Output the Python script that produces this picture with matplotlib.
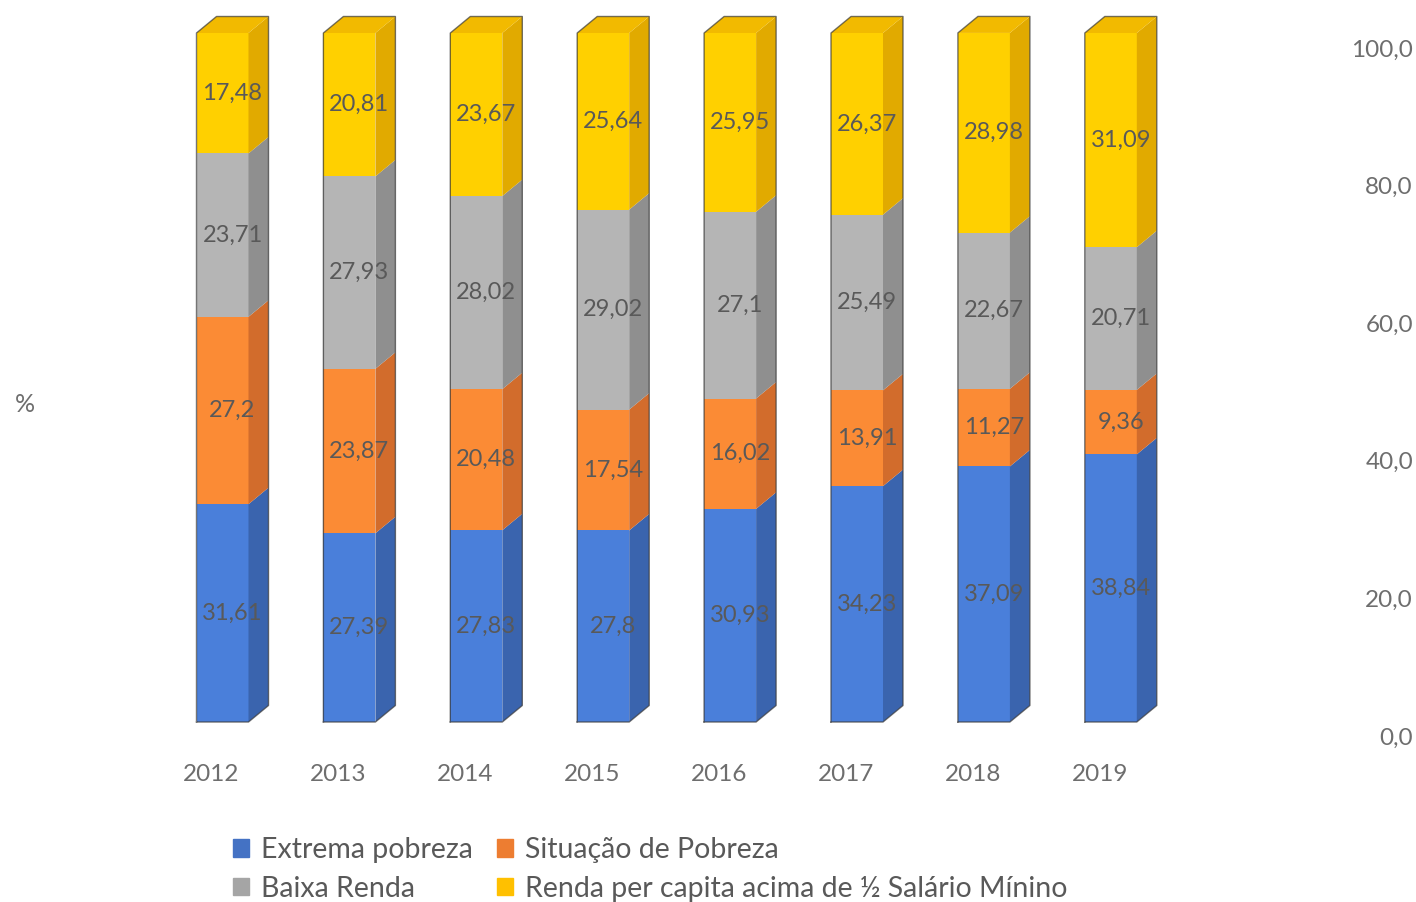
import matplotlib.pyplot as plt
from matplotlib.patches import Patch
from matplotlib.transforms import ScaledTranslation

plt.rcParams['font.family'] = ['Lato', 'DejaVu Sans']

years = ['2012', '2013', '2014', '2015', '2016', '2017', '2018', '2019']
extrema = [31.61, 27.39, 27.83, 27.8, 30.93, 34.23, 37.09, 38.84]
situacao = [27.2, 23.87, 20.48, 17.54, 16.02, 13.91, 11.27, 9.36]
baixa = [23.71, 27.93, 28.02, 29.02, 27.1, 25.49, 22.67, 20.71]
acima = [17.48, 20.81, 23.67, 25.64, 25.95, 26.37, 28.98, 31.09]

# name, values, front face, side face, legend colour
series = [
    ('Extrema pobreza', extrema, '#4a7fda', '#3a64ae', '#4472c4'),
    ('Situação de Pobreza', situacao, '#fb8b35', '#d26c2c', '#ed7d31'),
    ('Baixa Renda', baixa, '#b5b5b5', '#8f8f8f', '#a5a5a5'),
    ('Renda per capita acima de ½ Salário Mínino', acima, '#ffd000', '#e1aa00', '#ffc000'),
]
top_color = '#f2ba00'
label_color = '#595959'
axis_color = '#6e6e6e'

W, H = 1416, 902
fig = plt.figure(figsize=(W / 100, H / 100), dpi=100)

# pixel layout of the plot area
px_per_cat = 126.9
x0_px = 222.5
y0_px = 722
px_per_unit = 6.89
xlim = (-0.6, 7.6)
ylim = (0, 104)
left = (x0_px + xlim[0] * px_per_cat) / W
width = (xlim[1] - xlim[0]) * px_per_cat / W
bottom = (H - y0_px) / H
height = (ylim[1] - ylim[0]) * px_per_unit / H
ax = fig.add_axes([left, bottom, width, height])
ax.set_xlim(*xlim)
ax.set_ylim(*ylim)

bw = 52 / px_per_cat
dx = 20 / px_per_cat
dy = 16.5 / px_per_unit

xs = list(range(len(years)))
base = [0.0] * len(years)
for name, vals, front, side, _ in series:
    for i, v in enumerate(vals):
        b = base[i]
        t = b + v
        xl, xr = i - bw / 2, i + bw / 2
        ax.fill([xl, xr, xr, xl], [b, b, t, t], color=front, lw=0, clip_on=False, zorder=2)
        ax.fill([xr, xr + dx, xr + dx, xr], [b, b + dy, t + dy, t], color=side, lw=0,
                clip_on=False, zorder=2)
        ax.text(i + dx / 2, b + v / 2, str(v).replace('.', ','), ha='center', va='center',
                fontsize=17, color=label_color, zorder=5)
        base[i] = t

# top faces and thin dark outlines
for i, t in enumerate(base):
    xl, xr = i - bw / 2, i + bw / 2
    ax.fill([xl, xr, xr + dx, xl + dx], [t, t, t + dy, t + dy], color=top_color, lw=0,
            clip_on=False, zorder=2)
    ax.plot([xl, xl, xl + dx, xr + dx, xr + dx, xr, xl], [0, t, t + dy, t + dy, dy, 0, 0],
            color='#3a3a3a', lw=1.0, alpha=0.7, clip_on=False, zorder=3)

for s in ax.spines.values():
    s.set_visible(False)
ax.set_yticks([])
ax.set_xticks(xs)
ax.set_xticklabels(years, fontsize=17.5, color=axis_color)
ax.tick_params(axis='x', length=0, pad=30)
for lab in ax.get_xticklabels():
    lab.set_transform(lab.get_transform() + ScaledTranslation(-0.11, 0, fig.dpi_scale_trans))

# value axis on the right, Excel style (sits a little lower than the bars)
ax_px = 6.88
ax2 = fig.add_axes([left, (H - 736) / H, 1413 / W - left, 100 * ax_px / H])
ax2.patch.set_visible(False)
ax2.set_xticks([])
ax2.yaxis.tick_right()
ax2.set_yticks(range(0, 101, 20))
ax2.set_yticklabels([f'{v:.1f}'.replace('.', ',') for v in range(0, 101, 20)],
                    fontsize=17.5, color=axis_color)
ax2.set_ylim(0, 100)
ax2.tick_params(axis='y', length=0, pad=0)
for lab in ax2.get_yticklabels():
    lab.set_horizontalalignment('right')
for s in ax2.spines.values():
    s.set_visible(False)
ax2.set_zorder(-1)

fig.text(25 / W, 1 - 404 / H, '%', fontsize=18, color=axis_color, ha='center', va='center')

handles = [Patch(color=c) for _, _, _, _, c in series]
labels = [n for n, _, _, _, _ in series]
order = [0, 2, 1, 3]
fig.legend([handles[k] for k in order], [labels[k] for k in order], ncol=2,
           loc='upper left', bbox_to_anchor=(233 / W, 1 - 837 / H), frameon=False,
           fontsize=20.5, handlelength=0.56, handleheight=0.56, handletextpad=0.42,
           columnspacing=0.84, labelspacing=0.44, borderpad=0, borderaxespad=0,
           labelcolor='#595959')

fig.savefig('out.png', dpi=100)
